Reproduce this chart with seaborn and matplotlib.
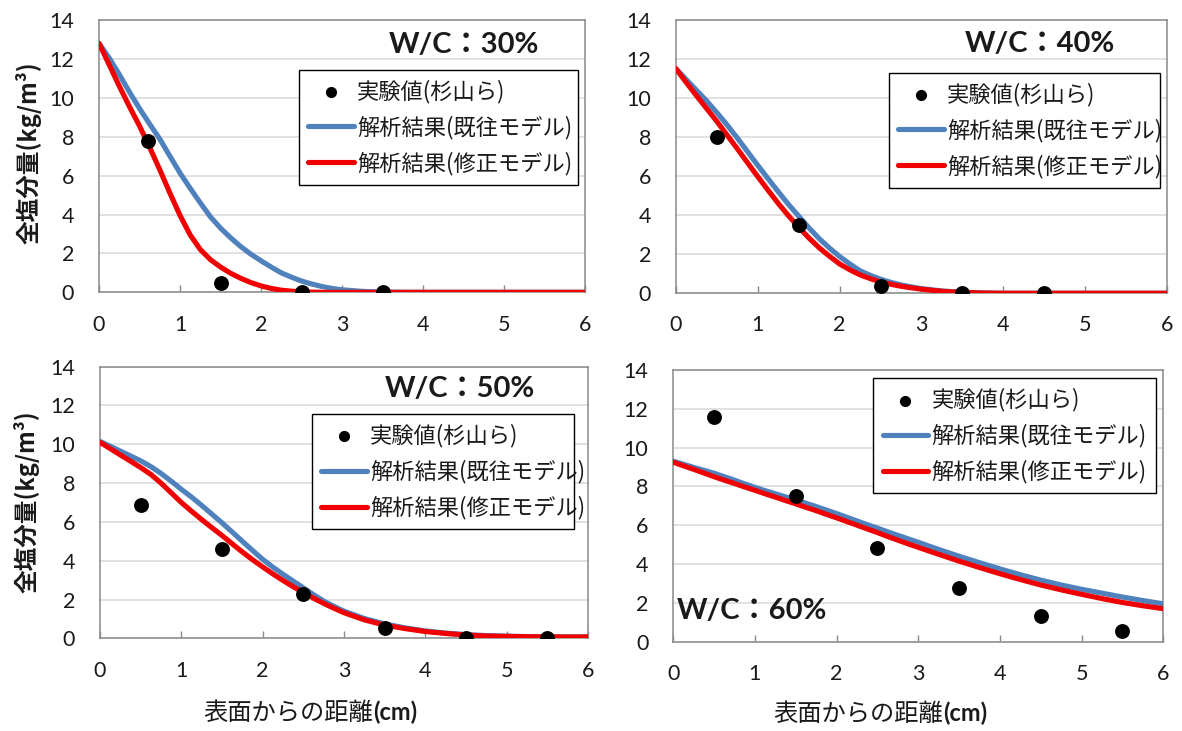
import matplotlib
matplotlib.use("Agg")
import matplotlib.pyplot as plt
import pandas as pd
import seaborn as sns

# Depth grid (cm) on which the two analysis models are sampled
depth_grid = [0.0, 0.125, 0.25, 0.375, 0.5, 0.625, 0.75, 0.875, 1.0, 1.125, 1.25, 1.375,
              1.5, 1.625, 1.75, 1.875, 2.0, 2.125, 2.25, 2.375, 2.5, 2.625, 2.75, 2.875,
              3.0, 3.25, 3.5, 3.75, 4.0, 4.25, 4.5, 4.75, 5.0, 5.25, 5.5, 5.75, 6.0]

# W/C 30%
exp_depth_30 = [0.6, 1.5, 2.5, 3.5]
exp_cl_30 = [7.8, 0.5, 0.0, 0.0]
prev_cl_30 = [12.8, 12.05, 11.2, 10.3, 9.45, 8.65, 7.88, 7.0, 6.13, 5.35, 4.6, 3.88,
              3.3, 2.8, 2.35, 1.96, 1.62, 1.3, 1.0, 0.78, 0.58, 0.43, 0.3, 0.2,
              0.13, 0.05, 0.01, 0.0, 0.0, 0.0, 0.0, 0.0, 0.0, 0.0, 0.0, 0.0, 0.0]
mod_cl_30 = [12.8, 11.7, 10.6, 9.55, 8.55, 7.45, 6.3, 5.1, 3.95, 2.95, 2.2, 1.68,
             1.3, 0.98, 0.72, 0.5, 0.33, 0.2, 0.11, 0.06, 0.03, 0.01, 0.0, 0.0,
             0.0, 0.0, 0.0, 0.0, 0.0, 0.0, 0.0, 0.0, 0.0, 0.0, 0.0, 0.0, 0.0]

# W/C 40%
exp_depth_40 = [0.5, 1.5, 2.5, 3.5, 4.5]
exp_cl_40 = [8.0, 3.5, 0.35, 0.0, 0.0]
prev_cl_40 = [11.5, 10.95, 10.4, 9.85, 9.25, 8.62, 7.95, 7.25, 6.55, 5.87, 5.2, 4.55,
              3.95, 3.35, 2.8, 2.32, 1.88, 1.5, 1.15, 0.92, 0.72, 0.56, 0.43, 0.33,
              0.24, 0.12, 0.05, 0.02, 0.0, 0.0, 0.0, 0.0, 0.0, 0.0, 0.0, 0.0, 0.0]
mod_cl_40 = [11.5, 10.8, 10.12, 9.46, 8.8, 8.1, 7.4, 6.68, 5.97, 5.28, 4.6, 3.97,
             3.38, 2.83, 2.33, 1.9, 1.5, 1.2, 0.94, 0.75, 0.58, 0.46, 0.36, 0.28,
             0.21, 0.1, 0.04, 0.01, 0.0, 0.0, 0.0, 0.0, 0.0, 0.0, 0.0, 0.0, 0.0]

# W/C 50%
exp_depth_50 = [0.5, 1.5, 2.5, 3.5, 4.5, 5.5]
exp_cl_50 = [6.85, 4.6, 2.3, 0.55, 0.03, 0.03]
prev_cl_50 = [10.15, 9.9, 9.65, 9.4, 9.15, 8.85, 8.5, 8.1, 7.68, 7.28, 6.85, 6.4,
              5.95, 5.48, 5.0, 4.53, 4.07, 3.67, 3.3, 2.95, 2.6, 2.25, 1.92, 1.65,
              1.4, 1.02, 0.74, 0.54, 0.38, 0.27, 0.19, 0.14, 0.11, 0.09, 0.08, 0.07, 0.07]
mod_cl_50 = [10.1, 9.78, 9.45, 9.13, 8.8, 8.45, 8.0, 7.5, 7.0, 6.55, 6.12, 5.7,
             5.3, 4.87, 4.45, 4.05, 3.68, 3.32, 2.98, 2.66, 2.36, 2.07, 1.8, 1.55,
             1.32, 0.95, 0.68, 0.5, 0.35, 0.25, 0.17, 0.12, 0.1, 0.08, 0.07, 0.07, 0.07]

# W/C 60%
exp_depth_60 = [0.5, 1.5, 2.5, 3.5, 4.5, 5.5]
exp_cl_60 = [11.6, 7.5, 4.85, 2.75, 1.3, 0.55]
prev_cl_60 = [9.3, 9.14, 8.98, 8.83, 8.68, 8.5, 8.32, 8.13, 7.95, 7.78, 7.62, 7.46,
              7.3, 7.13, 6.96, 6.78, 6.6, 6.41, 6.22, 6.03, 5.85, 5.66, 5.48, 5.3,
              5.12, 4.75, 4.4, 4.07, 3.75, 3.45, 3.17, 2.92, 2.7, 2.5, 2.3, 2.12, 1.95]
mod_cl_60 = [9.25, 9.06, 8.88, 8.69, 8.5, 8.32, 8.15, 7.97, 7.8, 7.62, 7.45, 7.27,
             7.1, 6.92, 6.75, 6.56, 6.38, 6.19, 6.0, 5.81, 5.62, 5.42, 5.23, 5.04,
             4.86, 4.5, 4.15, 3.82, 3.5, 3.2, 2.92, 2.67, 2.44, 2.22, 2.02, 1.85, 1.7]

wc_labels = ["W/C：30%", "W/C：40%", "W/C：50%", "W/C：60%"]
legend_labels = ["実験値(杉山ら)", "解析結果(既往モデル)", "解析結果(修正モデル)"]
x_label_main = "表面からの距離"
x_label_unit = "(cm)"
y_label = "全塩分量(kg/m³)"
x_ticks = [0, 1, 2, 3, 4, 5, 6]
y_ticks = [0, 2, 4, 6, 8, 10, 12, 14]

sns.set_style("white")
plt.rcParams["font.family"] = ["Lato", "Noto Sans CJK JP", "DejaVu Sans"]

JP = ["Noto Sans CJK JP", "DejaVu Sans"]
BLUE = "#4F81BD"
RED = "#F00000"
GRID = "#D9D9D9"
SPINE = "#898989"
INK = "#1a1a1a"

fig = plt.figure(figsize=(11.82, 7.31), dpi=100)

panels = [
    dict(rect=[0.0838, 0.6001, 0.4112, 0.3725], exp_x=exp_depth_30, exp_y=exp_cl_30,
         prev=prev_cl_30, mod=mod_cl_30, wc=wc_labels[0], wc_pos=(0.751, 0.908),
         leg=(0.4115, 0.405, 0.574, 0.4114), ylab=(-0.145, 0.5116), xlab=None),
    dict(rect=[0.5719, 0.5988, 0.4154, 0.3739], exp_x=exp_depth_40, exp_y=exp_cl_40,
         prev=prev_cl_40, mod=mod_cl_40, wc=wc_labels[1], wc_pos=(0.741, 0.912),
         leg=(0.434, 0.404, 0.552, 0.402), ylab=None, xlab=None),
    dict(rect=[0.0846, 0.1268, 0.4129, 0.3716], exp_x=exp_depth_50, exp_y=exp_cl_50,
         prev=prev_cl_50, mod=mod_cl_50, wc=wc_labels[2], wc_pos=(0.738, 0.918),
         leg=(0.434, 0.423, 0.538, 0.402), ylab=(-0.15, 0.502), xlab=(0.560, -0.301)),
    dict(rect=[0.5696, 0.1222, 0.4146, 0.3717], exp_x=exp_depth_60, exp_y=exp_cl_60,
         prev=prev_cl_60, mod=mod_cl_60, wc=wc_labels[3], wc_pos=(0.161, 0.113),
         leg=(0.408, 0.568, 0.577, 0.401), ylab=None, xlab=(0.550, -0.292)),
]

for p in panels:
    ax = fig.add_axes(p["rect"])
    curves = pd.DataFrame({"depth": depth_grid, "prev": p["prev"], "mod": p["mod"]})
    exp = pd.DataFrame({"depth": p["exp_x"], "cl": p["exp_y"]})

    sns.lineplot(data=curves, x="depth", y="prev", ax=ax, color=BLUE, lw=3.7,
                 sort=False, label=legend_labels[1], zorder=3)
    sns.lineplot(data=curves, x="depth", y="mod", ax=ax, color=RED, lw=3.7,
                 sort=False, label=legend_labels[2], zorder=4)
    sns.scatterplot(data=exp, x="depth", y="cl", ax=ax, color="black", s=115,
                    edgecolor="black", linewidth=0, label=legend_labels[0], zorder=5)

    ax.set_xlim(0, 6)
    ax.set_ylim(0, 14)
    ax.set_xticks(x_ticks)
    ax.set_yticks(y_ticks)
    ax.yaxis.grid(True, color=GRID, lw=1.1)
    ax.xaxis.grid(False)
    ax.set_axisbelow(True)
    for s in ax.spines.values():
        s.set_visible(True)
        s.set_color(SPINE)
        s.set_linewidth(1.1)
    ax.tick_params(axis="x", direction="in", length=5, width=1, color=SPINE,
                   pad=16, labelsize=15.5, labelcolor=INK, bottom=True)
    ax.tick_params(axis="y", length=0, pad=18, labelsize=15.5, labelcolor=INK)

    ax.set_xlabel("")
    ax.set_ylabel("")
    if p["ylab"] is not None:
        ax.set_ylabel(y_label, family=JP, fontsize=17, fontweight="bold",
                      va="center", ha="center", color=INK)
        ax.yaxis.set_label_coords(*p["ylab"])
    if p["xlab"] is not None:
        xj, yj = p["xlab"]
        ax.text(xj, yj, x_label_main, transform=ax.transAxes, ha="right",
                va="baseline", family=JP, fontsize=17.5, color=INK)
        ax.text(xj, yj, x_label_unit, transform=ax.transAxes, ha="left",
                va="baseline", family=["Lato", "DejaVu Sans"], fontsize=17,
                fontweight="bold", color=INK)

    ax.text(p["wc_pos"][0], p["wc_pos"][1], p["wc"], transform=ax.transAxes,
            ha="center", va="center", fontsize=21, fontweight="bold",
            family=["Lato", "Noto Sans CJK JP"], color=INK)

    handles, labels = ax.get_legend_handles_labels()
    order = [labels.index(l) for l in legend_labels]
    leg = ax.legend([handles[i] for i in order], [labels[i] for i in order],
                    loc="upper left", bbox_to_anchor=p["leg"], mode="expand",
                    borderaxespad=0, frameon=True, fancybox=False, framealpha=1,
                    edgecolor="black", prop={"family": JP, "size": 16},
                    handlelength=2.05, handletextpad=0.15, labelspacing=0.56,
                    borderpad=0.42, markerscale=0.75)
    for t in leg.get_texts():
        t.set_color(INK)
    leg.get_frame().set_linewidth(1.0)

fig.savefig("out.png", dpi=100, facecolor="white")
